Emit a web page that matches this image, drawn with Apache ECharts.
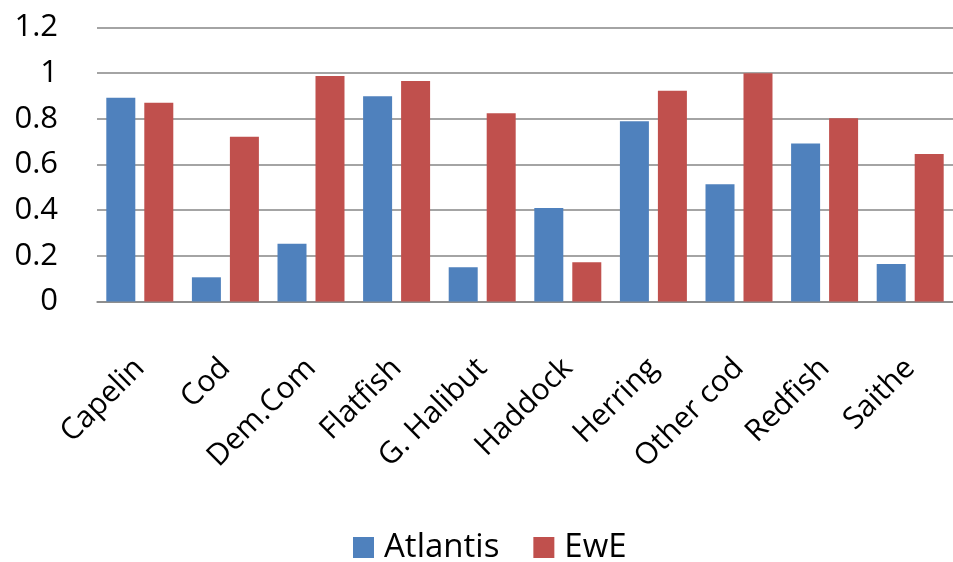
<!DOCTYPE html>
<html>
<head>
<meta charset="utf-8">
<style>
  html, body { margin: 0; padding: 0; background: #ffffff; }
  #chart { width: 953px; height: 562px; }
</style>
<script src="https://cdn.jsdelivr.net/npm/echarts@6/dist/echarts.min.js"></script>
</head>
<body>
<div id="chart"></div>
<script>
// Species groups along the category axis
const categories = ['Capelin', 'Cod', 'Dem.Com', 'Flatfish', 'G. Halibut', 'Haddock', 'Herring', 'Other cod', 'Redfish', 'Saithe'];
// Model results per species group
const atlantisValues = [0.892, 0.106, 0.253, 0.899, 0.150, 0.409, 0.789, 0.514, 0.692, 0.164];
const eweValues = [0.870, 0.721, 0.988, 0.966, 0.824, 0.172, 0.923, 1.000, 0.803, 0.646];
const seriesNames = ['Atlantis', 'EwE'];

const FONT = '"Open Sans", "Noto Sans", sans-serif';
const chart = echarts.init(document.getElementById('chart'), null, { renderer: 'canvas' });

chart.setOption({
  animation: false,
  backgroundColor: '#ffffff',
  color: ['#4F81BD', '#C0504D'],
  grid: { left: 97, top: 27.5, width: 868, height: 274, containLabel: false },
  legend: {
    top: 531,
    left: 353,
    padding: 0,
    itemWidth: 21,
    itemHeight: 21,
    itemGap: 34,
    icon: 'rect',
    textStyle: { fontFamily: FONT, fontSize: 33, color: '#000', padding: [0, 0, 0, 5] },
    data: seriesNames
  },
  xAxis: {
    type: 'category',
    data: categories,
    axisTick: { show: false },
    axisLine: { lineStyle: { color: '#868686', width: 1.5 } },
    axisLabel: {
      interval: 0,
      rotate: 45,
      margin: 62,
      color: '#000',
      fontFamily: FONT,
      fontSize: 30
    }
  },
  yAxis: {
    type: 'value',
    min: 0,
    max: 1.2,
    interval: 0.2,
    axisLine: { show: false },
    axisTick: { show: false },
    splitLine: { lineStyle: { color: '#868686', width: 1.5 } },
    axisLabel: {
      margin: 39,
      color: '#000',
      fontFamily: FONT,
      fontSize: 31
    }
  },
  series: [
    { name: seriesNames[0], type: 'bar', data: atlantisValues, barWidth: 29, barGap: '31%' },
    { name: seriesNames[1], type: 'bar', data: eweValues, barWidth: 29 }
  ]
});
</script>
</body>
</html>
